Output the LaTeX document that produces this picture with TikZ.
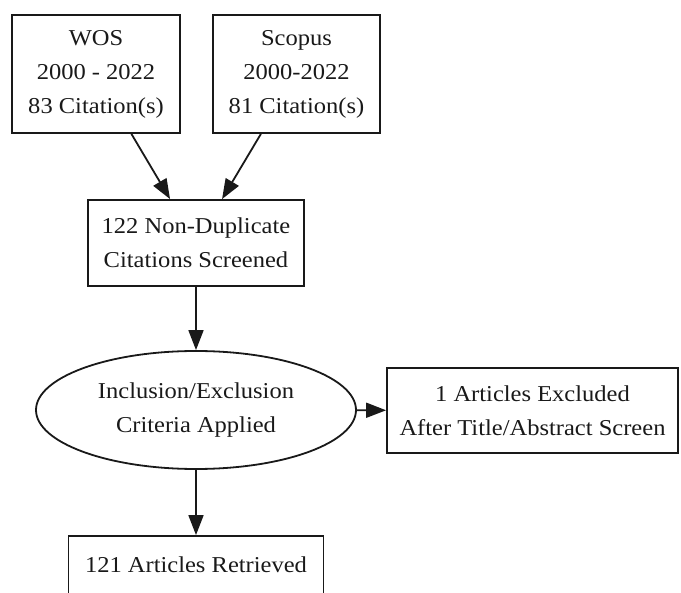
\documentclass[tikz,border=0pt]{standalone}
\usepackage{fontspec}
\setmainfont{Liberation Serif}[FakeStretch=1.08]
\usetikzlibrary{shapes.geometric,arrows.meta}
\begin{document}
\begin{tikzpicture}[x=1pt,y=-1pt,
  every node/.style={font=\fontsize{22.7}{34}\selectfont, align=center, inner sep=0pt, line width=1.8pt, draw=black!90, text=black!90},
  boxnode/.style={rectangle},
  ellnode/.style={ellipse},
  arr/.style={line width=1.8pt, draw=black!90, -{Triangle[length=20pt,width=15pt]}}
]
\clip (0,0) rectangle (681,593);
\node[boxnode, minimum width=168pt, minimum height=118pt] (wos) at (96,74) {WOS\\2000 - 2022\\83 Citation(s)};
\node[boxnode, minimum width=167pt, minimum height=118pt] (scopus) at (296.5,74) {Scopus\\2000-2022\\81 Citation(s)};
\node[boxnode, minimum width=216pt, minimum height=86pt] (dup) at (196,243) {122 Non-Duplicate\\Citations Screened};
\node[ellnode, minimum width=320pt, minimum height=118pt] (crit) at (196,410) {Inclusion/Exclusion\\Criteria Applied};
\node[boxnode, minimum width=291pt, minimum height=85pt] (excl) at (532.5,410.5) {1 Articles Excluded\\After Title/Abstract Screen};
\node[boxnode, minimum width=255pt, minimum height=58pt] (ret) at (196,565) {121 Articles Retrieved};
\draw[arr] (wos) -- (dup);
\draw[arr] (scopus) -- (dup);
\draw[arr] (dup) -- (crit);
\draw[arr] (crit) -- (excl);
\draw[arr] (crit) -- (ret);
\end{tikzpicture}
\end{document}
